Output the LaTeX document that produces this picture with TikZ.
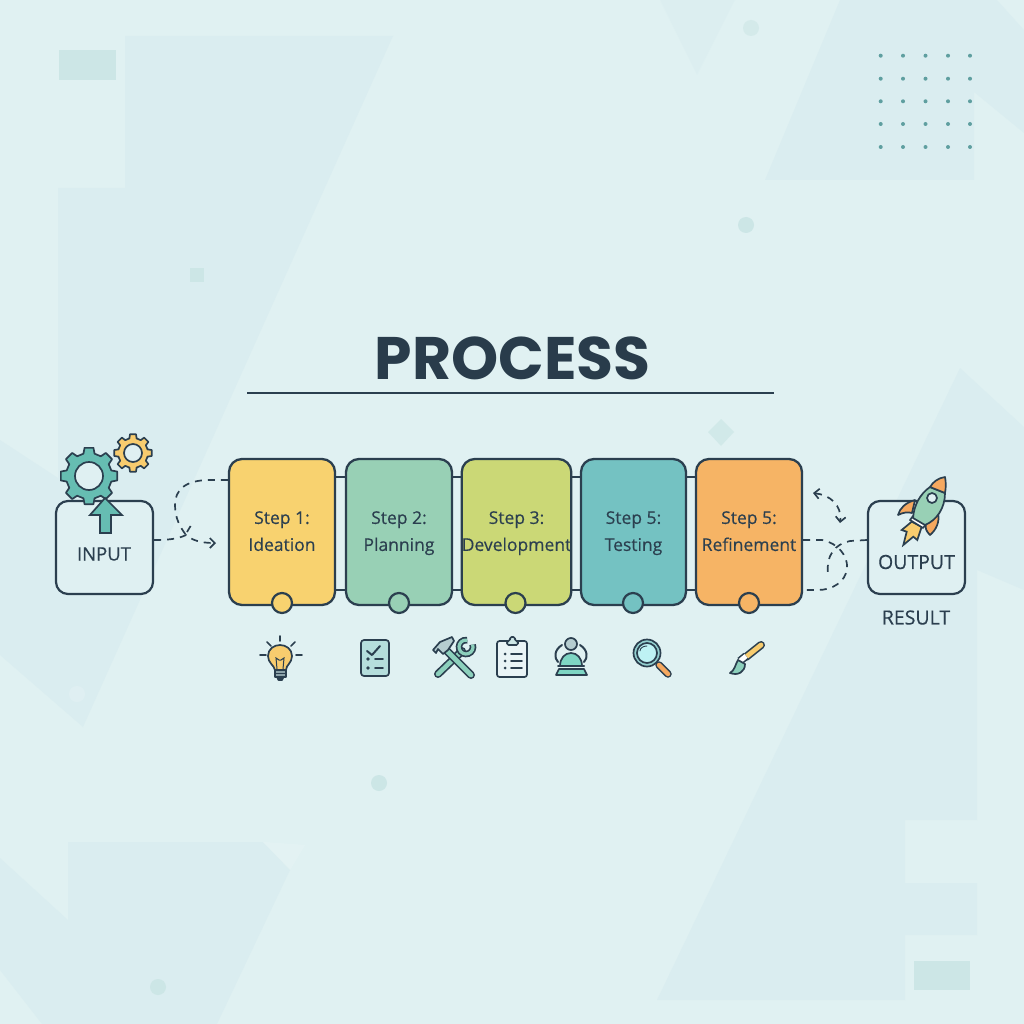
\documentclass[tikz,border=0pt]{standalone}
\usepackage{fontspec}
\setmainfont[FakeBold=0.35]{Open Sans}
\newfontfamily\titlefont{Poppins}
\usetikzlibrary{arrows.meta}
\definecolor{bgc}{HTML}{E0F1F2}
\definecolor{shapec}{HTML}{DAEDF0}
\definecolor{decoc}{HTML}{CCE6E6}
\definecolor{dark}{HTML}{2B3F4F}
\definecolor{ca}{HTML}{F8D26F}
\definecolor{cb}{HTML}{98D0B5}
\definecolor{cc}{HTML}{CBD876}
\definecolor{cd}{HTML}{74C2C2}
\definecolor{ce}{HTML}{F6B465}
\definecolor{tealg}{HTML}{66BDB2}
\definecolor{yel}{HTML}{F8CC6E}
\definecolor{org}{HTML}{F5A85F}
\definecolor{mint}{HTML}{8CD0BC}
\definecolor{boxf}{HTML}{DFF0F2}
\definecolor{dotc}{HTML}{5F9FA0}
\definecolor{sheet}{HTML}{B5DEDC}
\definecolor{steel}{HTML}{B5CDD0}
\tikzset{
  x=1pt,y=-1pt,
  stepbox/.style={draw=dark,line width=2.3pt,rounded corners=13pt,minimum width=#1,minimum height=146pt,inner sep=0pt,align=center,text=dark,font=\fontsize{17.5}{27}\selectfont},
  endbox/.style={draw=dark,fill=boxf,line width=2.2pt,rounded corners=12pt,minimum width=97pt,minimum height=93pt,inner sep=0pt},
  lab/.style={text=dark,inner sep=0pt,font=\fontsize{19}{20}\selectfont},
  link/.style={draw=dark,line width=2pt},
  dashlink/.style={draw=dark,line width=1.7pt,dash pattern=on 7pt off 6pt},
  knob/.style={circle,draw=dark,line width=2.2pt,minimum size=20pt,inner sep=0pt},
  icon/.style={draw=dark,line width=1.7pt,line join=round,line cap=round},
  bgshape/.style={fill=shapec},
  deco/.style={fill=decoc},
}
\newcommand{\gearshape}[7]{% cx cy router rroot rhole teethfill holefill
  \draw[draw=dark,line width=1.7pt,fill=#6,line join=round,shift={(#1,#2)}]
    (-14:#4)
    \foreach \g in {0,45,...,315} {
      -- ({\g-14}:#4) -- ({\g-9}:#3) -- ({\g+9}:#3) -- ({\g+14}:#4)
    } -- cycle;
  \draw[draw=dark,line width=1.7pt,fill=#7] (#1,#2) circle (#5);
}
\begin{document}
\begin{tikzpicture}
\useasboundingbox (0,0) rectangle (1024,1024);
\fill[bgc] (0,0) rectangle (1024,1024);
% background shapes
\fill[bgshape] (125,36)--(393,36)--(83,727)--(0,655)--(0,440)--(58,478)--(58,188)--(125,188)--cycle;
\fill[bgshape] (68,842)--(263,842)--(290,870)--(217,1024)--(42,1024)--(0,970)--(0,858)--(68,920)--cycle;
\fill[bgshape] (960,368)--(1024,427)--(1024,590)--(977,570)--(977,820)--(905,820)--(905,883)--(977,883)--(977,935)--(905,935)--(905,1000)--(657,1000)--cycle;
\fill[bgshape] (840,0)--(765,180)--(974,180)--(974,92)--(1024,133)--(1024,30)--(997,0)--cycle;
\fill[shapec,opacity=.5] (660,0)--(735,0)--(697,75)--cycle;
\fill[white,opacity=.12] (263,842)--(305,845)--(290,870)--cycle;
% decorations
\fill[deco] (59,50) rectangle (116,80);
\fill[deco] (190,268) rectangle (204,282);
\fill[deco] (914,961) rectangle (970,990);
\fill[deco] (746,225) circle (8);
\fill[deco] (379,783) circle (8);
\fill[deco] (158,987) circle (8);
\fill[decoc,opacity=.6] (751,28) circle (8);
\fill[white,opacity=.15] (77,694) circle (8);
\fill[decoc,opacity=.7] (721,419)--(734,432)--(721,446)--(708,432)--cycle;
\foreach \dx in {880.7,903,925.5,948,970}
  \foreach \dy in {55.7,78.7,101.3,124,147}
    \fill[dotc] (\dx,\dy) circle (2);
% title
\node[inner sep=0pt,text=dark!95!black,font=\titlefont\bfseries\fontsize{60}{60}\selectfont] (title) at (512.5,358) {PROCESS};
\coordinate (ruleL) at (247,393);
\coordinate (ruleR) at (774,393);
\draw[dark,line width=2.2pt] (ruleL) -- (ruleR);
% step boxes
\node[stepbox=106pt,fill=ca] (s1) at (282,532) {Step 1:\strut\\Ideation\strut};
\node[stepbox=106pt,fill=cb] (s2) at (399,532) {Step 2:\strut\\Planning\strut};
\node[stepbox=109pt,fill=cc] (s3) at (516.5,532) {Step 3:\strut\\Development\strut};
\node[stepbox=105pt,fill=cd] (s4) at (633.5,532) {Step 5:\strut\\Testing\strut};
\node[stepbox=106pt,fill=ce] (s5) at (749,532) {Step 5:\strut\\Refinement\strut};
% links between steps
\foreach \a/\b in {s1/s2,s2/s3,s3/s4,s4/s5}{
  \draw[link] (\a.east |- 0,477) -- (\b.west |- 0,477);
  \draw[link] (\a.east |- 0,590) -- (\b.west |- 0,590);
}
% knobs
\node[knob,fill=ca] (k1) at (282,603) {};
\node[knob,fill=cb] (k2) at (399,603) {};
\node[knob,fill=cc] (k3) at (515.5,603) {};
\node[knob,fill=cd] (k4) at (633,603) {};
\node[knob,fill=ce] (k5) at (749,603) {};
% end boxes
\node[endbox] (inp) at (104.5,547.5) {};
\node[endbox] (outp) at (916.5,547.5) {};
\node[lab,font=\fontsize{18.5}{20}\selectfont] (inlab) at (104,554) {INPUT};
\node[lab,font=\fontsize{19.5}{20}\selectfont] (outlab) at (916.5,562) {OUTPUT};
\node[lab,font=\fontsize{19.5}{20}\selectfont] (reslab) at (916,617.5) {RESULT};
% dashed connectors left
\coordinate (loopA) at (186,535);
\coordinate (hookA) at (193,522);
\coordinate (arrA) at (216,543);
\draw[dashlink] (s1.west |- 0,480) -- (210,480) .. controls (185,480) and (175,490) .. (175,505) .. controls (175,518) and (180,527) .. (loopA);
\draw[dashlink] (187,532) -- (hookA);
\draw[dashlink,-{Straight Barb[length=5pt,width=10pt]}] (inp.east |- 0,540) .. controls (168,540) and (178,539) .. (loopA) .. controls (192,540) and (200,543) .. (arrA);
% dashed connectors right
\draw[dashlink] (s5.east |- 0,540) -- (822,540) .. controls (838,543) and (848,556) .. (847,568) .. controls (846,582) and (832,590) .. (818,590) -- (s5.east |- 0,590);
\draw[dashlink] (outp.west |- 0,540) -- (850,541) .. controls (835,544) and (826,555) .. (828,574);
\coordinate (arrB) at (813,493);
\coordinate (arrC) at (840,523);
\draw[dashlink,{Straight Barb[length=5pt,width=10pt]}-{Straight Barb[length=5pt,width=10pt]}] (arrB) .. controls (830,495) and (842,505) .. (arrC);
% gears and arrow on input
\gearshape{89}{476}{28.5}{23}{14}{tealg}{boxf}
\gearshape{133}{453}{19}{15}{9}{yel}{boxf}
\draw[icon,fill=tealg,line cap=butt,line join=miter] (105,498)--(122,515)--(111,515)--(111,533)--(100,533)--(100,515)--(90,515)--cycle;
% rocket
\draw[icon,fill=org] (915,500) .. controls (905,503) and (900,508) .. (898,515) .. controls (904,512) and (908,512) .. (912,513) -- cycle;
\draw[icon,fill=org] (938,513) .. controls (940,522) and (936,530) .. (930,535) .. controls (926,531) and (925,528) .. (926,524) -- cycle;
\draw[icon,fill=yel,line join=miter] (911.7,521.7)--(901.7,530)--(906.7,531.7)--(903.3,545)--(913.3,536.7)--(917.3,540)--(921.7,526.7)--cycle;
\draw[icon,fill=white] (913,516)--(926,524)--(923,528)--(910,520)--cycle;
\draw[icon,fill=cb] (930,487) .. controls (920,494) and (914,505) .. (913,518) -- (925,525) .. controls (937,520) and (945,508) .. (945,493) -- cycle;
\draw[icon,fill=org] (945,477) .. controls (938,478) and (933,482) .. (930,487) -- (945,493) .. controls (946,488) and (946,482) .. (945,477) -- cycle;
\draw[icon,fill=boxf] (932,498) circle (5);
% bulb
\draw[icon,fill=yel] (275,670) .. controls (274,665) and (268,663) .. (268,656) .. controls (268,649) and (274,645) .. (280,645) .. controls (286,645) and (292,649) .. (292,656) .. controls (292,663) and (286,665) .. (286,670) -- cycle;
\draw[dark,line width=1pt] (277,669) -- (276,658) -- (279,660) -- (281,660) -- (284,658) -- (283,669);
\draw[icon,fill=steel!70!dark] (275,670) rectangle (286,677);
\draw[dark,line width=1pt] (275,673.5)--(286,673.5);
\draw[icon,fill=dark] (277.5,678) -- (283,678) -- (282,680) -- (278.5,680) -- cycle;
\draw[icon] (280,636)--(280,641) (260,655)--(266,655) (296,655)--(302,655) (267,642)--(271,646) (295,642)--(291,646);
% checklist
\draw[icon,fill=sheet,rounded corners=3pt] (361,640) rectangle (389,676);
\draw[icon,line width=2pt] (367,651)--(372,655)--(380,646);
\fill[dark] (368,659) circle (1.8);
\fill[dark] (368,668) circle (1.8);
\draw[icon] (375,659)--(383,659) (375,668)--(383,668);
% tools
\draw[dark,line width=8pt,line cap=round] (438,674)--(462,651);
\draw[mint,line width=4.6pt,line cap=round] (438,674)--(462,651);
\draw[dark,line width=6.6pt,line cap=butt] (472.6,644.6) arc (-20:280:7);
\draw[mint,line width=3.2pt,line cap=butt] (472.6,644.6) arc (-20:280:7);
\draw[dark,line width=8pt,line cap=round] (471,675)--(444,648);
\draw[mint,line width=4.6pt,line cap=round] (471,675)--(444,648);
\draw[icon,fill=steel] (433,650)--(440,642)--(452,637)--(454,641)--(448,650)--(443,654)--(438,649)--(436,653)--cycle;
% clipboard
\draw[icon,fill=boxf!70!white,rounded corners=2.5pt] (497,641) rectangle (527,677);
\draw[icon,fill=decoc,rounded corners=1.5pt] (507,645)--(507,641)--(510,641)--(510,637)--(515,637)--(515,641)--(518,641)--(518,645)--cycle;
\foreach \ry in {654,661,668}{
  \fill[dark] (505,\ry) circle (1.5);
  \draw[icon] (511,\ry)--(522,\ry);
}
% person icon
\draw[icon,line width=2pt] (562,645) .. controls (554,650) and (554,658) .. (558,662);
\draw[icon,line width=2pt] (580,645) .. controls (588,650) and (588,658) .. (584,662);
\draw[icon,fill=mint!90!cyan] (560,666) .. controls (560,658) and (565,653) .. (571,653) .. controls (577,653) and (582,658) .. (582,666) -- cycle;
\draw[icon,fill=steel] (571,644) circle (6);
\draw[icon,fill=mint!90!cyan] (559,669)--(584,669)--(587,675)--(556,675)--cycle;
\draw[icon,line width=2pt] (558,666)--(584,666);
% magnifier
\draw[dark,line width=7.5pt,line cap=round] (659,665)--(668,674);
\draw[org,line width=4.5pt,line cap=round] (659,665)--(668,674);
\draw[icon,fill=cd!70!boxf] (647,653) circle (13.5);
\draw[icon,fill=boxf!85!cyan] (647,653) circle (10);
\draw[dark,line width=.9pt,line cap=round] (640,651) .. controls (640,648) and (643,646) .. (647,646);
% brush
\draw[dark,line width=8pt,line cap=round] (746,657)--(761,645);
\draw[yel,line width=4.8pt,line cap=round] (746,657)--(761,645);
\draw[dark,line width=8pt] (740,661)--(746,656);
\draw[white,line width=4.8pt] (740,661)--(746,656);
\draw[icon,fill=mint] (738,660) .. controls (735,665) and (735,670) .. (730,673) .. controls (738,676) and (745,672) .. (745,664) -- cycle;
\end{tikzpicture}
\end{document}
